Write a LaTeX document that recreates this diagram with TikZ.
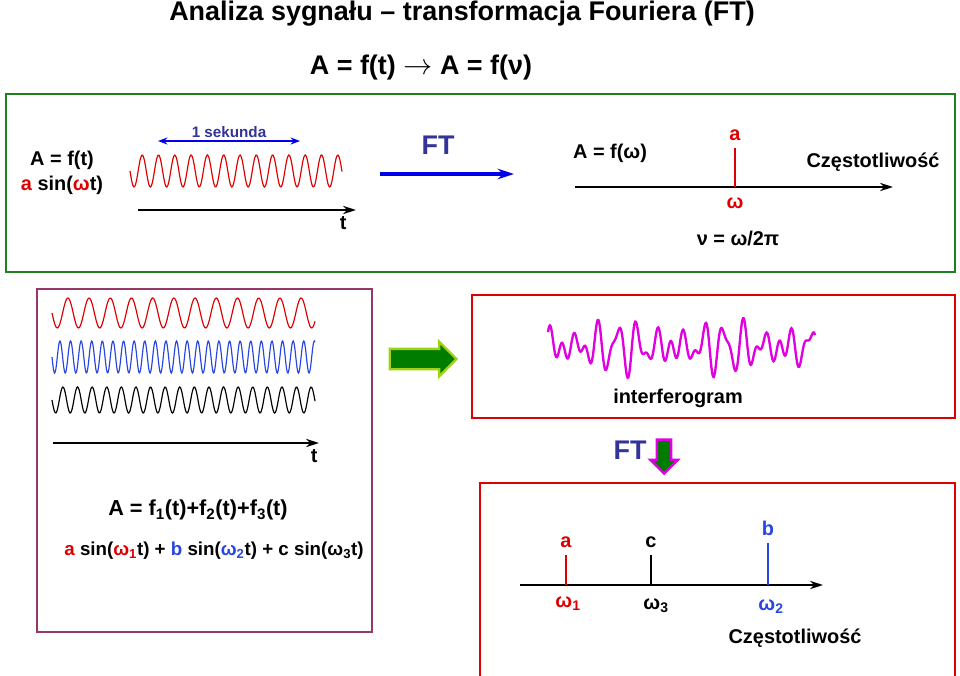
\documentclass[tikz,border=0pt]{standalone}
\usepackage{fontspec}
\setmainfont{Liberation Sans}
\usepackage{xcolor}
\usetikzlibrary{arrows.meta, positioning, shapes.arrows}
\definecolor{boxgreen}{RGB}{30,128,30}
\definecolor{boxplum}{RGB}{150,55,105}
\definecolor{sigred}{RGB}{220,0,0}
\definecolor{sigblue}{RGB}{40,70,225}
\definecolor{navy}{RGB}{51,51,153}
\definecolor{ftblue}{RGB}{0,0,235}
\definecolor{interf}{RGB}{225,0,225}
\definecolor{arrgreen}{RGB}{0,125,0}
\definecolor{lime}{RGB}{160,210,20}

\begin{document}
\begin{tikzpicture}[
  x=0.03cm, y=-0.03cm,
  title/.style={font=\fontsize{23}{26}\selectfont\bfseries, inner sep=1pt},
  lbl/.style={font=\fontsize{17}{19}\selectfont\bfseries, inner sep=1pt},
  small/.style={font=\fontsize{13}{15}\selectfont\bfseries, inner sep=1pt},
  ftlbl/.style={font=\fontsize{23}{25}\selectfont\bfseries, text=navy, inner sep=1pt},
  frame/.style={draw=#1, line width=2.5pt},
  axis/.style={-{Stealth[length=11pt,width=7pt]}, line width=2.5pt},
  wave/.style={draw=#1, line width=1pt, smooth},
  peak/.style={draw=#1, line width=2.2pt},
  blockarrow/.style={single arrow, draw=#1, line width=2pt, fill=arrgreen,
                     inner xsep=0pt, text width=0pt}
]
\useasboundingbox (0,0) rectangle (960,675);

% headings
\node[title] (title) at (462,14) {Analiza sygnału – transformacja Fouriera (FT)};
\node[title] (relation) at (421,68) {A = f(t) $\rightarrow$ A = f(ν)};

% ---- top panel: one sine and its spectrum
\draw[frame=boxgreen] (6,94) rectangle (955,272);
\node[lbl] (ft) at (62,160) {A = f(t)};
\node[lbl, below=3pt of ft] (asin) {\textcolor{sigred}{a} sin(\textcolor{sigred}{ω}t)};

\coordinate (sekL) at (158,141);
\coordinate (sekR) at (300,141);
\draw[{Stealth[length=8pt,width=6pt]}-{Stealth[length=8pt,width=6pt]}, ftblue, line width=1.5pt]
  (sekL) -- node[small, above=1pt, text=navy] (sek) {1 sekunda} (sekR);
\draw[wave=sigred] plot[domain=130:342, samples=220] (\x, {171-16*sin((\x-130)/16.3*360+180)});

\coordinate (t0) at (138,210);
\coordinate (t1) at (356,210);
\draw[axis] (t0) -- (t1);
\node[lbl, below left=4pt and 7pt of t1] (tlab) {t};

\node[ftlbl] (ft1) at (438,145) {FT};
\coordinate (ftA) at (380,174);
\coordinate (ftB) at (514,174);
\draw[-{Stealth[length=14pt,width=9pt]}, ftblue, line width=3pt] (ftA) -- (ftB);

\node[lbl] (afw) at (610,153) {A = f(ω)};
\coordinate (f0) at (575,187);
\coordinate (f1) at (893,187);
\draw[axis] (f0) -- (f1);
\coordinate (w) at (735,187);
\draw[peak=sigred] (w) -- ++(0,-39) node[lbl, above=4pt, text=sigred] (pa) {a};
\node[lbl, text=sigred] (wlab) at (735,203) {ω};
\node[lbl] (nu) at (738,238) {ν = ω/2π};
\node[lbl] (czest1) at (873,162) {Częstotliwość};

% ---- bottom left: three sines
\draw[frame=boxplum] (37,289) rectangle (372,632);
\draw[wave=sigred] plot[domain=52:315, samples=260] (\x, {313-15*sin((\x-52)/21.2*360+180)});
\draw[wave=sigblue] plot[domain=52:315, samples=400] (\x, {357-16*sin((\x-52)/10.6*360+180)});
\draw[wave=black] plot[domain=52:315, samples=320] (\x, {400-13*sin((\x-52)/14.6*360+180)});
\coordinate (t2) at (53,443);
\coordinate (t3) at (319,443);
\draw[axis] (t2) -- (t3);
\node[lbl, below left=4pt and 0pt of t3] (tlab2) {t};
\node[lbl, font=\fontsize{18.5}{20}\selectfont\bfseries] (sum) at (198,510) {A = f\textsubscript{1}(t)+f\textsubscript{2}(t)+f\textsubscript{3}(t)};
\node[lbl, font=\fontsize{16}{18}\selectfont\bfseries] (sumsin) at (214,551) {\textcolor{sigred}{a} sin(\textcolor{sigred}{ω\textsubscript{1}}t) + \textcolor{sigblue}{b} sin(\textcolor{sigblue}{ω\textsubscript{2}}t) + c sin(ω\textsubscript{3}t)};

\node[blockarrow=lime, inner ysep=0.27cm, single arrow head extend=0.21cm,
      minimum height=2cm] (go) at (418,359) {};

% ---- interferogram
\draw[frame=sigred] (472,295) rectangle (955,418);
\draw[draw=interf, line width=2pt, smooth] plot[domain=548:815, samples=420]
  (\x, {347-13*sin((\x-548)/21.3*360)-10*sin((\x-548)/12.1*360+40)-9*sin((\x-548)/17.7*360+110)});
\node[lbl] (interfero) at (678,398) {interferogram};

\node[ftlbl] (ft2) at (630,450) {FT};
\node[blockarrow=interf, rotate=-90, inner ysep=0.18cm, single arrow head extend=0.2cm,
      minimum height=1.02cm] (down) at (664,453) {};

% ---- bottom right: spectrum of the sum
\draw[frame=sigred] (480,483) rectangle (955,700);
\coordinate (g0) at (520,585);
\coordinate (g1) at (823,585);
\draw[axis] (g0) -- (g1);
\coordinate (w1) at (566,585);
\coordinate (w3) at (651,585);
\coordinate (w2) at (768,585);
\draw[peak=sigred] (w1) -- ++(0,-30) node[lbl, above=4pt, text=sigred] (amp1) {a};
\draw[peak=black] (w3) -- ++(0,-30) node[lbl, above=4pt] (amp3) {c};
\draw[peak=sigblue] (w2) -- ++(0,-42) node[lbl, above=4pt, text=sigblue] (amp2) {b};
\node[lbl, text=sigred] (w1lab) at (568,604) {ω\textsubscript{1}};
\node[lbl] (w3lab) at (656,606) {ω\textsubscript{3}};
\node[lbl, text=sigblue] (w2lab) at (771,607) {ω\textsubscript{2}};
\node[lbl] (czest2) at (795,638) {Częstotliwość};
\end{tikzpicture}
\end{document}
